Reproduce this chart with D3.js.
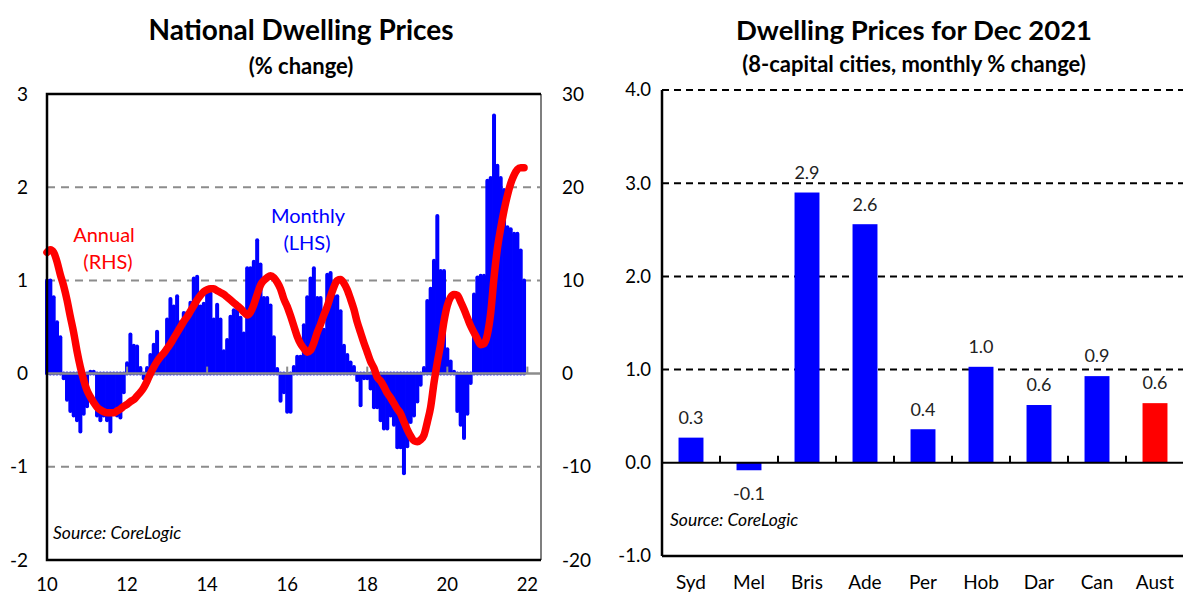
<!DOCTYPE html>
<html>
<head>
<meta charset="utf-8">
<script src="https://cdn.jsdelivr.net/npm/d3@7"></script>
<style>
  body { margin: 0; background: #fff; }
  svg text { font-family: Lato, "Open Sans", sans-serif; }
</style>
</head>
<body>
<svg id="chart" width="1183" height="597"></svg>
<script>
// ---- National dwelling prices: monthly % change (LHS), one row per year from 2010 ----
const startYear = 2010;
const monthlyChange = [
  1.0, 1.0, 0.82, 0.55, 0.39, -0.05, -0.28, -0.4, -0.45, -0.5, -0.62, -0.43,      // 2010
  -0.35, 0.02, 0.02, -0.45, -0.5, -0.45, -0.5, -0.62, -0.4, -0.45, -0.47, -0.2,   // 2011
  0.11, 0.42, 0.3, 0.29, 0.06, -0.05, 0.06, 0.2, 0.31, 0.45, 0.19, 0.19,          // 2012
  0.58, 0.8, 0.72, 0.83, 0.55, 0.65, 0.65, 0.76, 1.02, 1.04, 0.72, 0.75,          // 2013
  0.87, 0.86, 0.58, 0.74, 0.58, 0.24, 0.36, 0.61, 0.68, 0.68, 0.6, 0.43,          // 2014
  1.13, 1.13, 1.2, 1.43, 1.17, 0.81, 0.81, 0.73, 0.39, 0.05, -0.29, -0.2,         // 2015
  -0.41, -0.41, 0.07, 0.18, 0.18, 0.52, 0.82, 1.02, 1.13, 0.81, 0.81, 0.47,       // 2016
  1.06, 1.08, 0.83, 0.83, 0.67, 0.3, 0.2, 0.12, 0.07, -0.07, -0.34, -0.05,        // 2017
  -0.05, -0.16, -0.36, -0.36, -0.5, -0.59, -0.59, -0.45, -0.55, -0.79, -0.79, -1.07, // 2018
  -0.78, -0.52, -0.45, -0.3, -0.12, 0.06, 0.78, 0.91, 1.21, 1.69, 1.1, 1.1,       // 2019
  0.26, 0.13, 0.02, -0.4, -0.55, -0.69, -0.43, -0.1, 0.85, 1.03, 1.05, 1.05,      // 2020
  2.07, 2.1, 2.77, 2.23, 2.1, 1.97, 1.57, 1.55, 1.5, 1.5, 1.32, 1.0               // 2021
];

// ---- National dwelling prices: annual % change (RHS) ----
const annualChange = [
  13.0, 13.3, 13.0, 12.0, 10.6, 9.4, 7.9, 6.1, 4.4, 2.4, 0.7, -0.7,               // 2010
  -1.8, -2.5, -3.1, -3.6, -3.9, -4.1, -4.2, -4.2, -4.2, -4.0, -3.8, -3.5,         // 2011
  -3.3, -3.0, -2.8, -2.4, -2.0, -1.5, -0.8, 0.0, 0.7, 1.3, 1.8, 2.2,              // 2012
  2.7, 3.2, 3.8, 4.4, 5.0, 5.6, 6.1, 6.7, 7.3, 7.9, 8.4, 8.8,                     // 2013
  9.0, 9.1, 9.1, 8.9, 8.7, 8.5, 8.2, 7.9, 7.6, 7.3, 7.0, 6.6,                     // 2014
  6.3, 6.6, 7.4, 8.5, 9.5, 10.0, 10.3, 10.5, 10.3, 9.8, 9.1, 8.0,                 // 2015
  7.2, 6.2, 5.1, 4.0, 3.2, 2.7, 2.3, 2.5, 3.3, 4.4, 5.3, 6.3,                     // 2016
  7.2, 8.3, 9.3, 10.0, 10.1, 9.7, 9.0, 8.0, 6.9, 5.5, 4.4, 3.3,                   // 2017
  2.3, 1.3, 0.6, -0.4, -0.8, -1.4, -2.1, -2.6, -3.2, -3.8, -4.3, -5.2,            // 2018
  -6.0, -6.7, -7.2, -7.3, -7.1, -6.6, -5.2, -3.6, -1.0, 1.2, 3.2, 5.6,            // 2019
  7.3, 8.2, 8.5, 8.4, 7.7, 6.9, 6.0, 5.1, 4.4, 3.7, 3.1, 3.2,                     // 2020
  4.2, 6.5, 10.3, 13.4, 15.6, 17.5, 19.1, 20.4, 21.3, 21.9, 22.1, 22.1            // 2021
];

const leftTicks = [-2, -1, 0, 1, 2, 3];
const rightTicks = [-20, -10, 0, 10, 20, 30];
const yearTicks = [2010, 2012, 2014, 2016, 2018, 2020, 2022];

// ---- Dwelling prices for Dec 2021 by capital city ----
const cities = ["Syd", "Mel", "Bris", "Ade", "Per", "Hob", "Dar", "Can", "Aust"];
const cityChange = [0.27, -0.08, 2.9, 2.56, 0.36, 1.03, 0.62, 0.93, 0.64];
const cityTicks = [-1, 0, 1, 2, 3, 4];

const BLUE = "#0000ff", RED = "#ff0000", GRID = "#8c8c8c";
const fmt = d3.formatLocale({ decimal: ".", thousands: ",", grouping: [3], currency: ["", ""], minus: "-" }).format(".1f");
const svg = d3.select("#chart");

// ================= Left panel =================
const L = { left: 47, right: 541, top: 94, bottom: 560 };
const x = d3.scaleLinear().domain([2010, 2022.34]).range([L.left, L.right]);
const yL = d3.scaleLinear().domain([-2, 3]).range([L.bottom, L.top]);
const yR = d3.scaleLinear().domain([-20, 30]).range([L.bottom, L.top]);
const t = i => startYear + i / 12;

const left = svg.append("g");

left.append("text").attr("x", 301).attr("y", 40).attr("text-anchor", "middle")
  .attr("font-size", 28).attr("font-weight", 700).text("National Dwelling Prices");
left.append("text").attr("x", 301).attr("y", 74).attr("text-anchor", "middle")
  .attr("font-size", 22).attr("font-weight", 700).text("(% change)");

// dashed gridlines
left.append("g").selectAll("line").data([-1, 1, 2]).join("line")
  .attr("x1", L.left).attr("x2", L.right)
  .attr("y1", d => yL(d)).attr("y2", d => yL(d))
  .attr("stroke", GRID).attr("stroke-width", 2).attr("stroke-dasharray", "8,6");

// monthly bars
left.append("g").selectAll("line").data(monthlyChange).join("line")
  .attr("x1", (d, i) => x(t(i))).attr("x2", (d, i) => x(t(i)))
  .attr("y1", yL(0)).attr("y2", d => yL(d))
  .attr("stroke", BLUE).attr("stroke-width", 4).attr("stroke-linecap", "round");

// zero line with year ticks
left.append("line").attr("x1", L.left).attr("x2", L.right)
  .attr("y1", yL(0)).attr("y2", yL(0)).attr("stroke", GRID).attr("stroke-width", 2.5);
left.append("g").selectAll("line").data(yearTicks.slice(1)).join("line")
  .attr("x1", d => x(d)).attr("x2", d => x(d))
  .attr("y1", yL(0)).attr("y2", yL(0) - 7)
  .attr("stroke", GRID).attr("stroke-width", 2);

// annual line
left.append("path").datum(annualChange)
  .attr("fill", "none").attr("stroke", RED).attr("stroke-width", 7.5)
  .attr("stroke-linecap", "round").attr("stroke-linejoin", "round")
  .attr("d", d3.line().x((d, i) => x(t(i))).y(d => yR(d)).curve(d3.curveMonotoneX));

// frame
left.append("line").attr("x1", L.right).attr("x2", L.right).attr("y1", L.top).attr("y2", L.bottom)
  .attr("stroke", "#7f7f7f").attr("stroke-width", 2);
left.append("path")
  .attr("d", `M${L.right},${L.top}H${L.left}V${L.bottom}H${L.right}`)
  .attr("fill", "none").attr("stroke", "#000").attr("stroke-width", 2.5);

// axis labels
left.append("g").selectAll("text").data(leftTicks).join("text")
  .attr("x", 28).attr("y", d => yL(d)).attr("dy", "0.35em").attr("text-anchor", "end")
  .attr("font-size", 19).text(d => d);
left.append("g").selectAll("text").data(rightTicks).join("text")
  .attr("x", 562).attr("y", d => yR(d)).attr("dy", "0.35em").attr("text-anchor", "start")
  .attr("font-size", 19).text(d => d);
left.append("g").selectAll("text").data(yearTicks).join("text")
  .attr("x", d => x(d)).attr("y", 585).attr("dy", "0.35em").attr("text-anchor", "middle")
  .attr("font-size", 18.5).text(d => String(d).slice(2));

// series annotations
left.append("text").attr("x", 104).attr("y", 235).attr("dy", "0.35em").attr("text-anchor", "middle")
  .attr("font-size", 20).attr("fill", RED).text("Annual");
left.append("text").attr("x", 108).attr("y", 262).attr("dy", "0.35em").attr("text-anchor", "middle")
  .attr("font-size", 20).attr("fill", RED).text("(RHS)");
left.append("text").attr("x", 308).attr("y", 216).attr("dy", "0.35em").attr("text-anchor", "middle")
  .attr("font-size", 20).attr("fill", BLUE).text("Monthly");
left.append("text").attr("x", 307).attr("y", 243).attr("dy", "0.35em").attr("text-anchor", "middle")
  .attr("font-size", 20).attr("fill", BLUE).text("(LHS)");
left.append("text").attr("x", 53).attr("y", 533).attr("dy", "0.35em")
  .attr("font-size", 17.5).attr("font-style", "italic").text("Source: CoreLogic");

// ================= Right panel =================
const R = { left: 662, right: 1184, top: 90, bottom: 556 };
const xb = d3.scaleBand().domain(cities).range([R.left, R.right]).paddingInner(0.57).paddingOuter(0.285);
const yb = d3.scaleLinear().domain([-1, 4]).range([R.bottom, R.top]);
const right = svg.append("g");

right.append("text").attr("x", 914).attr("y", 40).attr("text-anchor", "middle")
  .attr("font-size", 27.5).attr("font-weight", 700).text("Dwelling Prices for Dec 2021");
right.append("text").attr("x", 914).attr("y", 72).attr("text-anchor", "middle")
  .attr("font-size", 22).attr("font-weight", 700).text("(8-capital cities, monthly % change)");

// dashed gridlines (incl. top edge)
right.append("g").selectAll("line").data([1, 2, 3, 4]).join("line")
  .attr("x1", R.left).attr("x2", R.right)
  .attr("y1", d => yb(d)).attr("y2", d => yb(d))
  .attr("stroke", "#000").attr("stroke-width", 2).attr("stroke-dasharray", "7,5");

// bars
right.append("g").selectAll("rect").data(cities).join("rect")
  .attr("x", d => xb(d)).attr("width", xb.bandwidth())
  .attr("y", (d, i) => yb(Math.max(0, cityChange[i])))
  .attr("height", (d, i) => Math.abs(yb(cityChange[i]) - yb(0)))
  .attr("fill", d => d === "Aust" ? RED : BLUE);

// value labels
right.append("g").selectAll("text").data(cities).join("text")
  .attr("x", d => xb(d) + xb.bandwidth() / 2)
  .attr("y", (d, i) => cityChange[i] >= 0 ? yb(cityChange[i]) - 20 : yb(cityChange[i]) + 23)
  .attr("dy", "0.35em").attr("text-anchor", "middle").attr("font-size", 18).attr("fill", "#222")
  .text((d, i) => fmt(cityChange[i]));

// zero line, category ticks, frame
right.append("line").attr("x1", R.left).attr("x2", R.right)
  .attr("y1", yb(0)).attr("y2", yb(0)).attr("stroke", "#000").attr("stroke-width", 2);
right.append("g").selectAll("line").data(cities.slice(1)).join("line")
  .attr("x1", d => xb(d) - xb.step() * xb.paddingInner() / 2)
  .attr("x2", d => xb(d) - xb.step() * xb.paddingInner() / 2)
  .attr("y1", yb(0)).attr("y2", yb(0) - 7).attr("stroke", "#000").attr("stroke-width", 2);
right.append("line").attr("x1", R.left).attr("x2", R.left).attr("y1", R.top).attr("y2", R.bottom)
  .attr("stroke", "#000").attr("stroke-width", 2.5);
right.append("line").attr("x1", R.left).attr("x2", R.right).attr("y1", R.bottom).attr("y2", R.bottom)
  .attr("stroke", "#000").attr("stroke-width", 2.5);

right.append("g").selectAll("text").data(cityTicks).join("text")
  .attr("x", 651).attr("y", d => yb(d)).attr("dy", "0.35em").attr("text-anchor", "end")
  .attr("font-size", 18.5).text(d => fmt(d));
right.append("g").selectAll("text").data(cities).join("text")
  .attr("x", d => xb(d) + xb.bandwidth() / 2).attr("y", 582).attr("dy", "0.35em")
  .attr("text-anchor", "middle").attr("font-size", 19).text(d => d);
right.append("text").attr("x", 670).attr("y", 520).attr("dy", "0.35em")
  .attr("font-size", 17.5).attr("font-style", "italic").text("Source: CoreLogic");
</script>
</body>
</html>
